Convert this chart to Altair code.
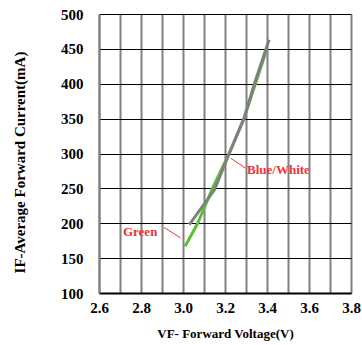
import altair as alt
import pandas as pd

gray_v = [3.03, 3.15, 3.22, 3.29, 3.34, 3.41]
gray_i = [198, 248, 300, 350, 400, 463]
green_v = [3.01, 3.07, 3.14, 3.22, 3.29, 3.345, 3.40]
green_i = [167, 200, 250, 300, 350, 400, 450]

x_ticks = [round(2.6 + 0.1 * k, 1) for k in range(13)]
y_ticks = [100, 150, 200, 250, 300, 350, 400, 450, 500]

lab_text = ["Blue/White", "Green"]
lab_v = [3.305, 2.714]
lab_i = [276, 188]
lead_v1 = [3.228, 2.910]
lead_i1 = [293, 194]
lead_v2 = [3.298, 2.988]
lead_i2 = [279, 179]

gray_df = pd.DataFrame({"V": gray_v, "I": gray_i})
green_df = pd.DataFrame({"V": green_v, "I": green_i})
labels = pd.DataFrame({"t": lab_text, "V": lab_v, "I": lab_i})
leads = pd.DataFrame({"V": lead_v1, "I": lead_i1, "V2": lead_v2, "I2": lead_i2})

font = "Liberation Serif"
xs = alt.Scale(domain=[2.6, 3.8], nice=False, zero=False)
ys = alt.Scale(domain=[100, 500], nice=False, zero=False)

xax = alt.Axis(values=x_ticks, title="VF- Forward Voltage(V)",
               labelExpr="round(datum.value*10) % 2 == 0 ? format(datum.value, '.1f') : ''",
               grid=True, gridColor="#808080", gridWidth=2, gridOpacity=1,
               ticks=False, domainColor="#000000", domainWidth=2,
               labelFont=font, labelFontSize=15, labelFontWeight="bold", labelColor="#000",
               labelPadding=7, titleFont=font, titleFontSize=13, titleFontWeight="bold",
               titleColor="#000", titlePadding=12, labelFlush=False, labelOverlap=False)
yax = alt.Axis(values=y_ticks, title="IF-Average Forward Current(mA)",
               grid=True, gridColor="#000000", gridWidth=1, gridOpacity=1,
               ticks=False, domainColor="#808080", domainWidth=2,
               labelFont=font, labelFontSize=15, labelFontWeight="bold", labelColor="#000",
               labelPadding=16, titleFont=font, titleFontSize=15, titleFontWeight="bold",
               titleColor="#000", titlePadding=33, titleY=148,
               labelFlush=False, labelOverlap=False)

X = lambda f: alt.X(f, scale=xs, axis=xax)
Y = lambda f: alt.Y(f, scale=ys, axis=yax)

green_line = alt.Chart(green_df).mark_line(strokeWidth=3, color="#5cbf3c", clip=True).encode(
    x=X("V:Q"), y=Y("I:Q"))
gray_line = alt.Chart(gray_df).mark_line(strokeWidth=3, color="#7f7f7f", clip=True).encode(
    x=X("V:Q"), y=Y("I:Q"))

rules = alt.Chart(leads).mark_rule(color="#ee3333", strokeWidth=1).encode(
    x=X("V:Q"), y=Y("I:Q"), x2="V2:Q", y2="I2:Q")

texts = alt.Chart(labels).mark_text(font=font, fontSize=13, fontWeight="bold",
                                    color="#ee3333", align="left", baseline="middle").encode(
    x=X("V:Q"), y=Y("I:Q"), text="t:N")

chart = alt.layer(green_line, gray_line, rules, texts).properties(
    width=252, height=279,
    autosize=alt.AutoSizeParams(type="none"),
    padding={"left": 99, "top": 14, "right": 11, "bottom": 52},
).configure_view(stroke=None)

chart.save("out.html", embed_options={"renderer": "svg", "actions": False})
